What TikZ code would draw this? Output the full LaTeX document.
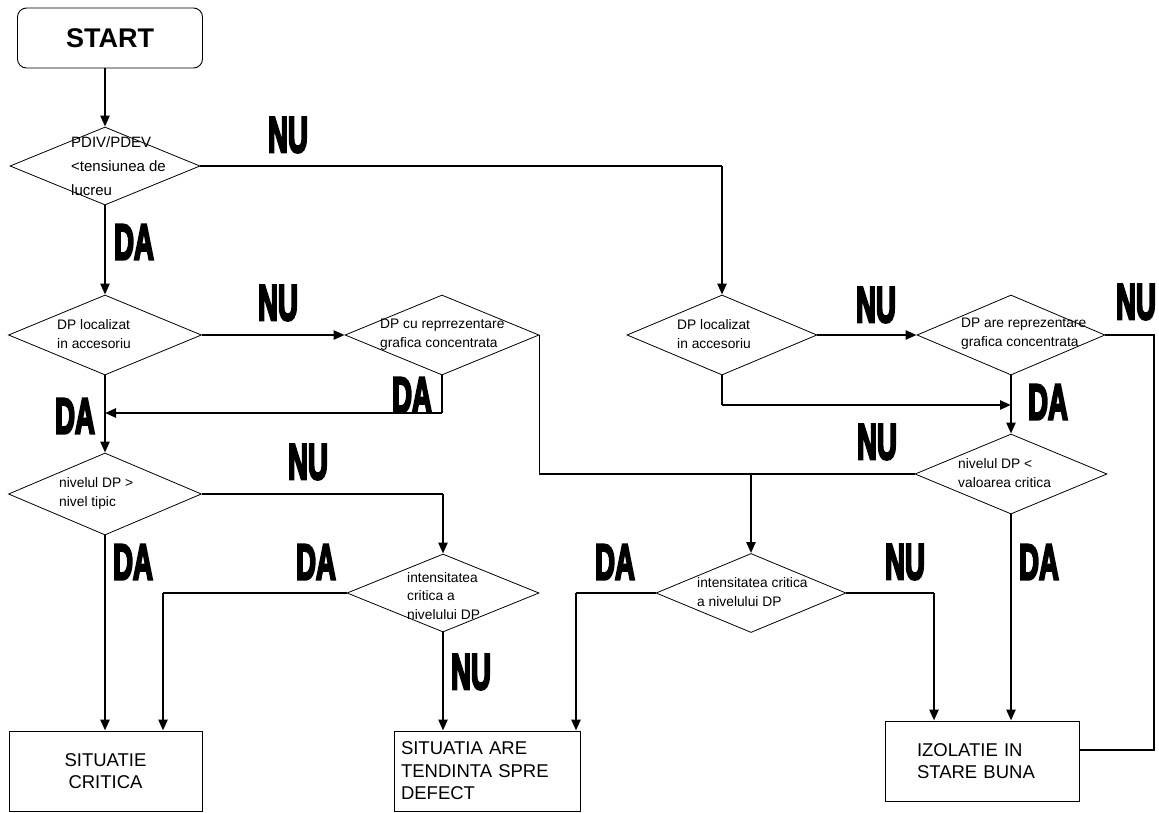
\documentclass[tikz,border=0pt]{standalone}
\usepackage{fontspec}
\setmainfont{Liberation Sans}
\newfontfamily\yesnofont{Liberation Sans Bold}
\usepackage{tikz}
\usetikzlibrary{arrows.meta, shapes.geometric}
\newcommand{\narrowcaps}[1]{\scalebox{0.55}[1]{\special{pdf:literal direct 2 Tr 3 w}#1\special{pdf:literal direct 0 Tr 0.4 w}}}

\begin{document}
\begin{tikzpicture}[
    x=1pt, y=-1pt,
    test/.style={diamond, draw, line width=0.8pt, minimum width=192pt, minimum height=80pt, inner sep=0pt},
    qtext/.style={anchor=west, align=left, inner sep=0pt, font=\fontsize{13.8}{19}\selectfont},
    outcome/.style={rectangle, draw, line width=0.9pt, minimum width=193pt, minimum height=80pt, align=left, font=\fontsize{18.5}{22.5}\selectfont},
    arrow/.style={-{Triangle[length=11pt, width=9pt]}, line width=2.4pt},
    link/.style={line width=1.1pt},
    ans/.style={inner sep=0pt, font=\yesnofont\fontsize{50}{50}\selectfont}
]
\useasboundingbox (0,0) rectangle (1159,812);

% Start
\node[rectangle, draw, line width=0.9pt, rounded corners=9pt, minimum width=185pt, minimum height=60pt, font=\bfseries\fontsize{27}{27}\selectfont] (start) at (110,38) {START};

% Decisions, left branch
\node[test, minimum width=190pt, minimum height=78pt] (d1) at (105,166) {};
\node[qtext, font=\fontsize{15}{24}\selectfont] (d1t) at (71,166) {PDIV/PDEV\\<tensiunea de\\lucreu};
\node[test, minimum width=193pt] (d2) at (105,335) {};
\node[qtext] (d2t) at (57,334) {DP localizat\\in accesoriu};
\node[test, minimum width=194pt] (d3) at (442,335) {};
\node[qtext] (d3t) at (380,335) {DP cu reprrezentare\\grafica concentrata};
\node[test, minimum width=193pt, minimum height=82pt] (d4) at (105,494) {};
\node[qtext] (d4t) at (59,493) {nivelul DP >\\nivel tipic};
\node[test, minimum height=78pt] (d8) at (443,593) {};
\node[qtext, font=\fontsize{13.8}{18.5}\selectfont] (d8t) at (407,596) {intensitatea\\critica a\\nivelului DP};

% Decisions, right branch
\node[test, minimum width=190pt] (d5) at (722,335) {};
\node[qtext] (d5t) at (677,334) {DP localizat\\in accesoriu};
\node[test, minimum width=188pt] (d6) at (1011,335) {};
\node[qtext] (d6t) at (961,334) {DP are reprezentare\\grafica concentrata};
\node[test] (d7) at (1011,474) {};
\node[qtext] (d7t) at (958,473) {nivelul DP <\\valoarea critica};
\node[test, minimum width=190pt, minimum height=79pt] (d9) at (751,593) {};
\node[qtext] (d9t) at (697,592) {intensitatea critica\\a nivelului DP};

% Outcomes
\node[outcome, align=center] (crit) at (105.5,771) {SITUATIE\\CRITICA};
\node[outcome, minimum width=186pt, text width=172pt, inner xsep=7pt] (trend) at (487,771) {SITUATIA ARE\\TENDINTA SPRE\\DEFECT};
\node[outcome, minimum width=194pt, text width=130pt, inner xsep=32pt] (good) at (982,761) {IZOLATIE IN\\STARE BUNA};

% Corners
\coordinate (join) at (105,413);
\coordinate (merge) at (1011,405);
\coordinate (c1) at (163,593);
\coordinate (c2) at (576,593);
\coordinate (c3) at (934,593);
\coordinate (c5) at (1154,750);

% Connectors
\draw[arrow] (start.south -| d1) -- (d1.north);
\draw[link] (d1.east) -- (d1.east -| d5);
\draw[arrow] (d1.east -| d5) -- (d5.north);
\draw[arrow] (d1.south) -- (d2.north);
\draw[arrow] (d2.east) -- (d3.west);
\draw[link] (d3.south) -- (d3.south |- join);
\draw[arrow] (d3.south |- join) -- (join);
\draw[arrow] (d2.south) -- (d4.north);
\draw[link] (d3.east) -- (d3.east |- d7) -- (d7.west);
\draw[arrow] (d7.west -| d9) -- (d9.north);
\draw[link] (d4.east) -- (d4.east -| d8);
\draw[arrow] (d4.east -| d8) -- (d8.north);
\draw[arrow] (d4.south) -- (d4.south |- crit.north);
\draw[link] (d8.west) -- (c1);
\draw[arrow] (c1) -- (c1 |- crit.north);
\draw[arrow] (d8.south) -- (d8.south |- trend.north);
\draw[link] (d9.west) -- (c2);
\draw[arrow] (c2) -- (c2 |- trend.north);
\draw[link] (d9.east) -- (c3);
\draw[arrow] (c3) -- (c3 |- good.north);
\draw[arrow] (d7.south) -- (d7.south |- good.north);
\draw[arrow] (d5.east) -- (d6.west);
\draw[link] (d5.south) -- (d5.south |- merge);
\draw[arrow] (d5.south |- merge) -- (merge);
\draw[arrow] (d6.south) -- (d7.north);
\draw[link] (d6.east) -| (c5) -- (c5 -| good.east);

% Answers
\node[ans] (nu1) at (288,135) {\narrowcaps{NU}};
\node[ans] (da1) at (134,242) {\narrowcaps{DA}};
\node[ans] (nu2) at (278,303) {\narrowcaps{NU}};
\node[ans] (da2) at (412,395) {\narrowcaps{DA}};
\node[ans] (da3) at (75,416) {\narrowcaps{DA}};
\node[ans] (nu3) at (308,462) {\narrowcaps{NU}};
\node[ans] (da4) at (133,562) {\narrowcaps{DA}};
\node[ans] (da5) at (316,562) {\narrowcaps{DA}};
\node[ans] (nu4) at (471,672) {\narrowcaps{NU}};
\node[ans] (da6) at (615,562) {\narrowcaps{DA}};
\node[ans] (nu5) at (905,562) {\narrowcaps{NU}};
\node[ans] (da7) at (1039,562) {\narrowcaps{DA}};
\node[ans] (nu6) at (876,305) {\narrowcaps{NU}};
\node[ans] (nu7) at (1136,302) {\narrowcaps{NU}};
\node[ans] (da8) at (1048,402) {\narrowcaps{DA}};
\node[ans] (nu8) at (877,442) {\narrowcaps{NU}};
\end{tikzpicture}
\end{document}
